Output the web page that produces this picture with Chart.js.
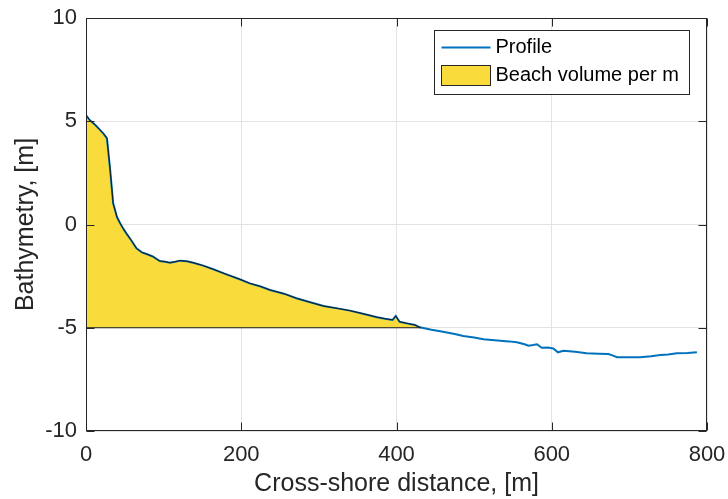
<!DOCTYPE html>
<html>
<head>
<meta charset="utf-8">
<script src="https://cdn.jsdelivr.net/npm/chart.js@4"></script>
<style>
  html, body { margin: 0; padding: 0; background: #fff; }
</style>
</head>
<body>
<canvas id="chart" width="728" height="499"></canvas>
<script>
// cross-shore distance [m] and bed level [m]
const profileX = [0, 4, 8, 12, 18, 23, 27, 31, 35, 40, 44, 48, 52, 58, 65, 72, 78, 86, 95, 102,
  108, 115, 121, 130, 138, 150, 164, 180, 198, 211, 225, 237, 255, 271, 290, 306, 322, 340, 358, 375,
  385, 395, 399, 404, 415, 424, 430, 445, 460, 475, 486, 500, 512, 530, 545, 555, 565, 570, 576, 581,
  587, 595, 602, 608, 615, 630, 645, 660, 673, 679, 684, 700, 714, 728, 740, 750, 761, 775, 787]
const profileY = [5.30, 5.09, 4.95, 4.82, 4.58, 4.38, 4.17, 2.70, 1.03, 0.35, 0.06, -0.20, -0.43, -0.75, -1.15, -1.35, -1.43, -1.55, -1.77, -1.80,
  -1.85, -1.80, -1.75, -1.78, -1.85, -1.98, -2.17, -2.40, -2.65, -2.85, -3.00, -3.17, -3.35, -3.57, -3.78, -3.95, -4.05, -4.17, -4.33, -4.49,
  -4.56, -4.62, -4.43, -4.71, -4.80, -4.87, -4.98, -5.10, -5.19, -5.30, -5.40, -5.47, -5.56, -5.62, -5.66, -5.70, -5.80, -5.87, -5.84, -5.80,
  -5.97, -5.96, -6.00, -6.19, -6.11, -6.16, -6.24, -6.26, -6.27, -6.35, -6.43, -6.43, -6.43, -6.38, -6.32, -6.30, -6.24, -6.22, -6.19]

const baseLevel = -5      // lower bound of the beach volume
const beachEnd = 431      // where the profile crosses the base level

const xTicks = [0, 200, 400, 600, 800]
const yTicks = [-10, -5, 0, 5, 10]

const blue = '#0072bd'
const yellow = '#f9db3c'
const axisColor = '#262626'
const gridColor = '#e3e3e3'
const fontFamily = "'Liberation Sans', Arial, sans-serif"

Chart.defaults.font.family = fontFamily
Chart.defaults.color = axisColor

const profile = profileX.map((x, i) => ({ x, y: profileY[i] }))
const beach = [
  { x: 0, y: baseLevel },
  ...profile.filter(p => p.x <= beachEnd),
  { x: beachEnd, y: baseLevel },
  { x: 0, y: baseLevel },
]

const tickLen = 8

// MATLAB-like box with inward ticks, plus the legend inside the axes
const axesBox = {
  id: 'axesBox',
  afterDraw(chart) {
    const { ctx, chartArea: a, scales: { x, y } } = chart
    const L = Math.round(a.left) + 0.5, R = Math.round(a.right) - 0.5
    const T = Math.round(a.top) + 0.5, B = Math.round(a.bottom) - 0.5
    ctx.save()
    ctx.strokeStyle = axisColor
    ctx.lineWidth = 1
    ctx.beginPath()
    x.ticks.forEach(t => {
      const px = Math.round(x.getPixelForValue(t.value)) + 0.5
      ctx.moveTo(px, B); ctx.lineTo(px, B - tickLen)
      ctx.moveTo(px, T); ctx.lineTo(px, T + tickLen)
    })
    y.ticks.forEach(t => {
      const py = Math.round(y.getPixelForValue(t.value)) + 0.5
      ctx.moveTo(L, py); ctx.lineTo(L + tickLen, py)
      ctx.moveTo(R, py); ctx.lineTo(R - tickLen, py)
    })
    ctx.stroke()
    ctx.strokeRect(L, T, R - L, B - T)

    // legend
    const ds = chart.data.datasets
    const bx = Math.round(a.right - 273) + 0.5, by = Math.round(a.top + 12) + 0.5
    const bw = 255, bh = 64
    ctx.fillStyle = '#fff'
    ctx.fillRect(bx, by, bw, bh)
    ctx.strokeStyle = axisColor
    ctx.strokeRect(bx, by, bw, bh)

    ctx.strokeStyle = blue
    ctx.lineWidth = 2
    ctx.beginPath()
    ctx.moveTo(bx + 7, by + 17); ctx.lineTo(bx + 56, by + 17)
    ctx.stroke()

    ctx.fillStyle = yellow
    ctx.fillRect(bx + 7, by + 35, 49, 20)
    ctx.strokeStyle = axisColor
    ctx.lineWidth = 1
    ctx.strokeRect(bx + 7, by + 35, 49, 20)

    ctx.fillStyle = '#000'
    ctx.font = '20px ' + fontFamily
    ctx.textBaseline = 'middle'
    ctx.textAlign = 'left'
    ctx.fillText(ds[1].label, bx + 61, by + 17)
    ctx.fillText(ds[0].label, bx + 61, by + 45)
    ctx.restore()
  }
}

new Chart(document.getElementById('chart'), {
  type: 'line',
  data: {
    datasets: [
      {
        label: 'Beach volume per m',
        data: beach,
        borderColor: '#1a1a1a',
        borderWidth: 1,
        backgroundColor: yellow,
        fill: 'shape',
        pointRadius: 0,
        tension: 0,
      },
      {
        label: 'Profile',
        data: profile,
        borderColor: blue,
        borderWidth: 2,
        fill: false,
        pointRadius: 0,
        tension: 0,
      },
    ]
  },
  options: {
    responsive: false,
    animation: false,
    layout: { padding: { top: 18, right: 21, left: 0, bottom: 0 } },
    plugins: {
      legend: { display: false },
      tooltip: { enabled: false },
      filler: { drawTime: 'beforeDatasetsDraw' },
    },
    scales: {
      x: {
        type: 'linear',
        min: xTicks[0],
        max: xTicks[xTicks.length - 1],
        afterBuildTicks: s => { s.ticks = xTicks.map(v => ({ value: v })) },
        afterFit: s => { s.height = 68; s.paddingLeft = 0; s.paddingRight = 0 },
        grid: { color: gridColor, drawTicks: false },
        border: { display: false },
        ticks: { padding: 11, font: { size: 22 }, color: axisColor, maxRotation: 0 },
        title: {
          display: true,
          text: 'Cross-shore distance, [m]',
          font: { size: 25 },
          color: axisColor,
          padding: { top: 0, bottom: 0 },
        },
      },
      y: {
        type: 'linear',
        min: yTicks[0],
        max: yTicks[yTicks.length - 1],
        afterBuildTicks: s => { s.ticks = yTicks.map(v => ({ value: v })) },
        afterFit: s => { s.width = 86; s.paddingTop = 0; s.paddingBottom = 0 },
        grid: { color: gridColor, drawTicks: false },
        border: { display: false },
        ticks: { padding: 9, font: { size: 22 }, color: axisColor },
        title: {
          display: true,
          text: 'Bathymetry, [m]',
          font: { size: 25 },
          color: axisColor,
          padding: { top: 11, bottom: 0 },
        },
      },
    }
  },
  plugins: [axesBox],
})
</script>
</body>
</html>
